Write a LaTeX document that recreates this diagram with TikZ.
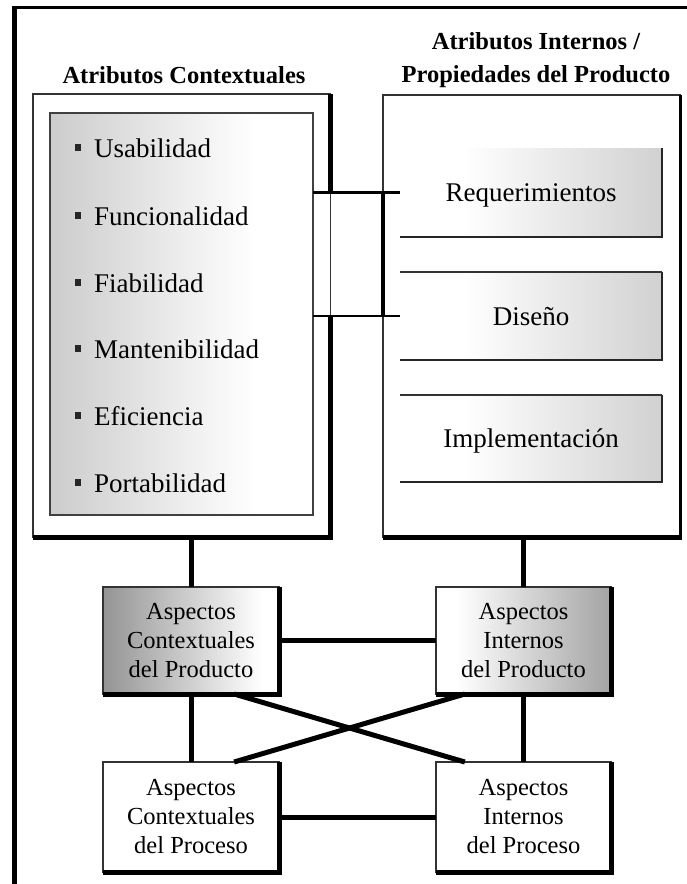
\documentclass[tikz,border=0pt]{standalone}
\usepackage{fontspec}
\setmainfont{Liberation Serif}
\usetikzlibrary{calc}
\pgfdeclarehorizontalshading{lgrad}{100bp}{color(0bp)=(black!20); color(25bp)=(black!20); color(64bp)=(white); color(75bp)=(white); color(100bp)=(white)}
\pgfdeclarehorizontalshading{rgrad}{100bp}{color(0bp)=(white); color(25bp)=(white); color(37bp)=(white); color(75bp)=(black!18); color(100bp)=(black!18)}
\pgfdeclarehorizontalshading{acpgrad}{100bp}{color(0bp)=(black!42); color(25bp)=(black!42); color(70bp)=(white); color(75bp)=(white); color(100bp)=(white)}
\pgfdeclarehorizontalshading{aipgrad}{100bp}{color(0bp)=(white); color(25bp)=(white); color(31bp)=(white); color(75bp)=(black!36); color(100bp)=(black!36)}
\begin{document}
\begin{tikzpicture}[x=1pt,y=-1pt,
  bord/.style={draw=black!80, line width=1.5pt},
  shadowln/.style={line width=5pt, line join=miter},
  conn/.style={line width=5pt},
  thinconn/.style={line width=2.5pt},
  boxnode/.style={rectangle, inner sep=0pt, outer sep=0pt},
  itemtxt/.style={font=\fontsize{27}{32}\selectfont, inner sep=0pt, anchor=base west},
  boxtxt/.style={font=\fontsize{27}{32}\selectfont, text height=18pt, text depth=0pt},
  asptxt/.style={font=\fontsize{24.5}{29}\selectfont, align=center},
  headtxt/.style={font=\bfseries\fontsize{24.5}{33}\selectfont, align=center, inner sep=0pt},
  bulletsq/.style={rectangle, fill=black!85, inner sep=0pt, minimum width=6pt, minimum height=7pt}
]
\useasboundingbox (0,0) rectangle (687,884);
\fill[white] (0,0) rectangle (687,884);

% outer frame
\draw[line width=2.5pt] (12,7.25) -- (687,7.25);
\draw[line width=5pt] (14.5,6) -- (14.5,884);

% headers
\node[headtxt, anchor=base] (hleft) at (184,83) {Atributos Contextuales};
\node[headtxt] (hright) at (536,59.7) {Atributos Internos /\\Propiedades del Producto};

% left column
\node[boxnode, bord, minimum width=297.5pt, minimum height=443pt] (lout) at (181.75,315.5) {};
\node[boxnode, bord, draw=black!75, shade, shading=lgrad, minimum width=263pt, minimum height=402pt] (lin) at (181.5,314) {};

\node[bulletsq] (b1) at (77.5,147.5) {};
\node[bulletsq] (b2) at (77.5,215.5) {};
\node[bulletsq] (b3) at (77.5,282.5) {};
\node[bulletsq] (b4) at (77.5,348.5) {};
\node[bulletsq] (b5) at (77.5,415.5) {};
\node[bulletsq] (b6) at (77.5,482.5) {};
\node[itemtxt] (it1) at (94,157) {Usabilidad};
\node[itemtxt] (it2) at (94,225) {Funcionalidad};
\node[itemtxt] (it3) at (94,292) {Fiabilidad};
\node[itemtxt] (it4) at (94,358) {Mantenibilidad};
\node[itemtxt] (it5) at (94,425) {Eficiencia};
\node[itemtxt] (it6) at (94,492) {Portabilidad};

% right column
\node[boxnode, bord, minimum width=297pt, minimum height=442pt] (rout) at (531.5,316) {};
\node[boxnode, shade, shading=rgrad, minimum width=262pt, minimum height=89pt, boxtxt] (req) at (531,192.5) {Requerimientos};
\node[boxnode, shade, shading=rgrad, minimum width=262pt, minimum height=88pt, boxtxt] (dis) at (531,316) {Diseño};
\node[boxnode, shade, shading=rgrad, minimum width=262pt, minimum height=87pt, boxtxt] (imp) at (531,438.5) {Implementación};
\foreach \b in {req,dis,imp}{
  \draw[line width=2pt, black!85] (\b.north east) -- (\b.south east) -- (\b.south west);
}
\draw[line width=1.5pt, black!80] (dis.north west) -- (dis.north east);
\draw[line width=1.5pt, black!80] (imp.north west) -- (imp.north east);

% shadows of the big boxes
\draw[shadowln] (lout.north east) -- (lout.east |- req.west);
\draw[shadowln] (lout.east |- dis.west) -- (lout.south east) -- (lout.south west);
\draw[line width=3pt] (rout.north east) -- ($(rout.south east)+(0,2.5)$);
\draw[shadowln] (rout.south west) -- ($(rout.south east)+(1.5,0)$);

% upper connectors
\draw[thinconn] (lin.east |- req.west) -- (req.west);
\draw[thinconn] (lin.east |- dis.west) -- (dis.west);
\draw[line width=3.5pt] (rout.west |- req.west) -- (rout.west |- dis.west);

% aspect boxes
\node[boxnode, bord, shade, shading=acpgrad, minimum width=176pt, minimum height=107pt, asptxt] (acp) at (191,640.5) {Aspectos\\Contextuales\\del Producto};
\node[boxnode, bord, shade, shading=aipgrad, minimum width=175pt, minimum height=107pt, asptxt] (aip) at (523.5,640.5) {Aspectos\\Internos\\del Producto};
\node[boxnode, bord, fill=white, minimum width=176pt, minimum height=110pt, asptxt] (acpr) at (191,817) {Aspectos\\Contextuales\\del Proceso};
\node[boxnode, bord, fill=white, minimum width=175pt, minimum height=110pt, asptxt] (aipr) at (523.5,817) {Aspectos\\Internos\\del Proceso};
\foreach \b in {acp,aip,acpr,aipr}{
  \draw[shadowln] (\b.north east) -- (\b.south east) -- (\b.south west);
}

% lower connectors
\draw[conn] (acp.north) -- (acp.north |- lout.south);
\draw[conn] (aip.north) -- (aip.north |- rout.south);
\draw[conn] (acp.east) -- (aip.west);
\draw[conn] (acpr.east) -- (aipr.west);
\draw[conn] (acp.south) -- (acpr.north);
\draw[conn] (aip.south) -- (aipr.north);
\coordinate (d1) at ($(acp.south west)!0.745!(acp.south east)$);
\coordinate (d2) at ($(aipr.north west)!0.165!(aipr.north east)$);
\coordinate (d3) at ($(aip.south west)!0.165!(aip.south east)$);
\coordinate (d4) at ($(acpr.north west)!0.745!(acpr.north east)$);
\draw[conn] (d1) -- (d2);
\draw[conn] (d3) -- (d4);
\end{tikzpicture}
\end{document}
